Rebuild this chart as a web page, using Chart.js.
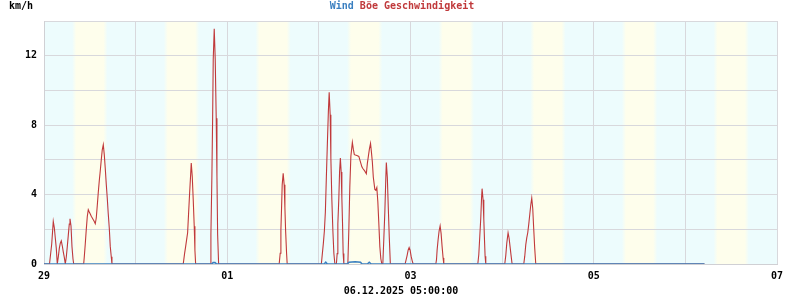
<!DOCTYPE html>
<html>
<head>
<meta charset="utf-8">
<script src="https://cdn.jsdelivr.net/npm/chart.js@4/dist/chart.umd.min.js"></script>
<style>
  html, body { margin: 0; padding: 0; background: #fff; }
  #wrap { width: 800px; height: 300px; position: relative; }
</style>
</head>
<body>
<div id="wrap"><canvas id="windChart"></canvas></div>
<script>
// Wind / gust speed, 29.11.2025 00:00 .. 06.12.2025 05:00 (hours since start)
const startDate = new Date(2025, 10, 29, 0, 0, 0);
const dayLabels = ['29', '30', '01', '02', '03', '04', '05', '06', '07'];
const yTickLabels = ['0', '4', '8', '12'];

const gustHours = [
    0, 1.44, 2.02, 2.28, 2.43, 2.70, 2.96, 3.22, 3.48, 3.74, 4.01, 4.27, 4.53, 4.79, 5.05, 5.31, 5.58,
    5.84, 6.10, 6.36, 6.62, 6.81, 7.07, 7.33, 7.59, 7.78,
    10.39, 10.55, 10.81, 11.07, 11.34, 11.60, 11.86, 12.12, 12.38, 12.65, 12.91, 13.17, 13.43, 13.69,
    13.95, 14.22, 14.48, 14.74, 15.00, 15.26, 15.53, 15.79, 16.05, 16.31, 16.57, 16.83, 17.10, 17.36,
    17.62, 17.80,
    36.47, 36.84, 37.10, 37.36, 37.62, 37.88, 38.15, 38.41, 38.57, 38.83, 39.09, 39.35, 39.53, 39.72,
    43.54, 43.72, 43.98, 44.17, 44.33, 44.59, 44.85, 45.11, 45.30, 45.48, 45.74,
    61.60, 61.87, 62.05, 62.23, 62.39, 62.65, 62.91, 63.10, 63.28, 63.54, 63.70,
    72.65, 72.91, 73.18, 73.44, 73.70, 73.96, 74.22, 74.49, 74.70, 74.96, 75.14, 75.40, 75.67, 75.93, 76.19,
    76.58, 76.79, 76.97, 77.23, 77.42, 77.63, 77.84, 78.02, 78.20, 78.36, 78.54,
    79.59, 79.85, 80.11, 80.38, 80.77, 81.03, 81.29, 81.95, 82.47, 82.73, 83.00, 83.26, 83.52, 84.04,
    84.43, 84.70, 84.96, 85.22, 85.53, 85.74, 86.00, 86.26, 86.66, 86.92, 87.18, 87.44, 87.71, 87.97,
    88.23, 88.49,
    88.75, 89.02, 89.28, 89.54, 89.67, 89.93, 90.19, 90.45, 90.72,
    94.59, 94.86, 95.12, 95.38, 95.64, 95.90, 96.16, 96.43, 96.69,
    102.63, 102.81, 102.97, 103.23, 103.49, 103.76, 104.02, 104.28, 104.54, 104.72,
    113.63, 113.89, 114.15, 114.41, 114.60, 114.75, 115.01, 115.20, 115.38, 115.54, 115.72,
    120.69, 120.96, 121.22, 121.56, 121.82, 122.08, 122.34, 122.61,
    125.67, 125.93, 126.19, 126.45, 126.71, 126.98, 127.24, 127.50, 127.76, 128.02, 128.28, 128.54, 128.81,
    173
];
const gustValues = [
    0, 0, 1.15, 1.98, 2.45, 2.1, 1.5, 0.9, 0, 0.4, 0.9, 1.2, 1.33, 1.05, 0.7, 0.4, 0,
    0.4, 1.0, 1.65, 2.3, 2.6, 2.2, 1.0, 0.3, 0,
    0, 0.4, 1.15, 1.98, 2.74, 3.13, 3.0, 2.88, 2.75, 2.65, 2.55, 2.45, 2.32, 2.65,
    3.36, 4.13, 4.8, 5.37, 6.0, 6.58, 6.87, 6.3, 5.5, 4.6, 3.8, 2.9, 2.07, 1.0,
    0.42, 0,
    0, 0.63, 1.0, 1.4, 1.8, 2.95, 4.1, 5.14, 5.82, 5.05, 3.7, 2.17, 0.8, 0,
    0, 1.7, 5.1, 8.4, 11.8, 13.55, 11.8, 8.4, 5.1, 1.7, 0,
    0, 0.62, 1.96, 3.25, 4.56, 5.22, 4.56, 3.25, 1.96, 0.62, 0,
    0, 0.6, 1.2, 1.9, 3.0, 5.0, 6.9, 8.8, 9.9, 8.6, 6.1, 3.7, 1.9, 0.6, 0,
    0, 0.6, 2.3, 3.8, 5.3, 6.1, 5.3, 3.8, 2.3, 0.6, 0,
    0, 2.0, 4.5, 6.2, 7.0, 6.6, 6.3, 6.25, 6.2, 6.0, 5.8, 5.6, 5.5, 5.35,
    5.2, 5.8, 6.2, 6.6, 6.95, 6.5, 5.9, 5.0, 4.3, 4.25, 4.4, 3.6, 2.3, 1.0,
    0.3, 0,
    0, 1.5, 3.0, 5.0, 5.85, 5.0, 3.2, 1.5, 0,
    0, 0.25, 0.5, 0.8, 0.95, 0.8, 0.45, 0.2, 0,
    0, 0.25, 0.8, 1.4, 1.9, 2.2, 1.75, 1.0, 0.35, 0,
    0, 0.55, 1.6, 2.65, 3.75, 4.34, 3.7, 2.6, 1.4, 0.45, 0,
    0, 0.5, 1.2, 1.8, 1.5, 1.0, 0.5, 0,
    0, 0.45, 1.1, 1.5, 1.8, 2.3, 2.85, 3.4, 3.8, 3.2, 2.0, 0.9, 0,
    0
];

const windHours = [0, 43.9, 44.3, 44.8, 45.2, 73.4, 73.8, 74.2, 79.4, 79.9, 81.5, 82.9, 83.3,
    84.7, 85.2, 85.7, 173];
const windValues = [0, 0, 0.08, 0.08, 0, 0, 0.1, 0, 0, 0.1, 0.13, 0.1, 0, 0, 0.1, 0, 0];

// day (yellow) / night (cyan) background, hours of the day
const sunriseHour = 7.9;
const sunsetHour = 16.1;

const toPoints = (xs, ys) => xs.map((x, i) => ({ x: x, y: ys[i] }));

const FONT = '"DejaVu Sans Mono", monospace';

const backgroundBands = {
    id: 'backgroundBands',
    beforeDraw(chart) {
        const { ctx, chartArea: a, scales: { x } } = chart;
        const night = '#edfcfd', day = '#fefeec';
        ctx.save();
        ctx.fillStyle = night;
        ctx.fillRect(a.left, a.top, a.right - a.left, a.bottom - a.top);
        for (let d = 0; d < 8; d++) {
            const x0 = x.getPixelForValue(d * 24 + sunriseHour);
            const x1 = x.getPixelForValue(d * 24 + sunsetHour);
            const g = ctx.createLinearGradient(x0 - 2, 0, x1 + 2, 0);
            const f = 4 / (x1 - x0 + 4);
            g.addColorStop(0, night);
            g.addColorStop(f, day);
            g.addColorStop(1 - f, day);
            g.addColorStop(1, night);
            ctx.fillStyle = g;
            ctx.fillRect(x0 - 2, a.top, x1 - x0 + 4, a.bottom - a.top);
        }
        ctx.restore();
    }
};

const chartTexts = {
    id: 'chartTexts',
    afterDraw(chart) {
        const ctx = chart.ctx;
        ctx.save();
        ctx.font = 'bold 10px ' + FONT;
        ctx.textBaseline = 'middle';
        // title: "Wind" in blue, "Böe Geschwindigkeit" in red
        const t1 = 'Wind ', t2 = 'Böe Geschwindigkeit';
        const w1 = ctx.measureText(t1).width, w2 = ctx.measureText(t2).width;
        let tx = 402 - (w1 + w2) / 2;
        ctx.textAlign = 'left';
        ctx.fillStyle = '#3a7fc0';
        ctx.fillText(t1, tx, 6);
        ctx.fillStyle = '#c0393b';
        ctx.fillText(t2, tx + w1, 6);
        ctx.fillStyle = '#000';
        ctx.fillText('km/h', 9, 6);
        ctx.textAlign = 'center';
        ctx.fillText('06.12.2025 05:00:00', 401, 291);
        ctx.restore();
    }
};

new Chart(document.getElementById('windChart'), {
    type: 'line',
    data: {
        datasets: [{
            label: 'Wind',
            data: toPoints(windHours, windValues),
            borderColor: '#3a7fc0',
            borderWidth: 1.6,
            pointRadius: 0,
            tension: 0
        }, {
            label: 'Böe Geschwindigkeit',
            data: toPoints(gustHours, gustValues),
            borderColor: '#c0393b',
            borderWidth: 1.1,
            pointRadius: 0,
            tension: 0
        }]
    },
    options: {
        responsive: true,
        maintainAspectRatio: false,
        animation: false,
        layout: { padding: { top: 21, right: 23, bottom: 0, left: 0 } },
        plugins: {
            legend: { display: false },
            title: { display: false },
            tooltip: { enabled: false }
        },
        scales: {
            x: {
                type: 'linear',
                min: 0,
                max: 192,
                afterFit: s => { s.height = 36; },
                grid: { color: '#d8d8dc', lineWidth: 1, drawTicks: false },
                border: { color: '#d0d0d4' },
                ticks: {
                    stepSize: 24,
                    autoSkip: false,
                    maxRotation: 0,
                    padding: 6,
                    color: '#000',
                    font: { family: FONT, size: 10, weight: 'bold' },
                    callback: v => (v % 48 === 0 ? dayLabels[v / 24] : '')
                }
            },
            y: {
                min: 0,
                max: 14,
                afterFit: s => { s.width = 44; },
                grid: { color: '#d8d8dc', lineWidth: 1, drawTicks: false },
                border: { color: '#d0d0d4' },
                ticks: {
                    stepSize: 2,
                    autoSkip: false,
                    padding: 7,
                    color: '#000',
                    font: { family: FONT, size: 10, weight: 'bold' },
                    callback: v => (v % 4 === 0 ? yTickLabels[v / 4] : '')
                }
            }
        }
    },
    plugins: [backgroundBands, chartTexts]
});
</script>
</body>
</html>
